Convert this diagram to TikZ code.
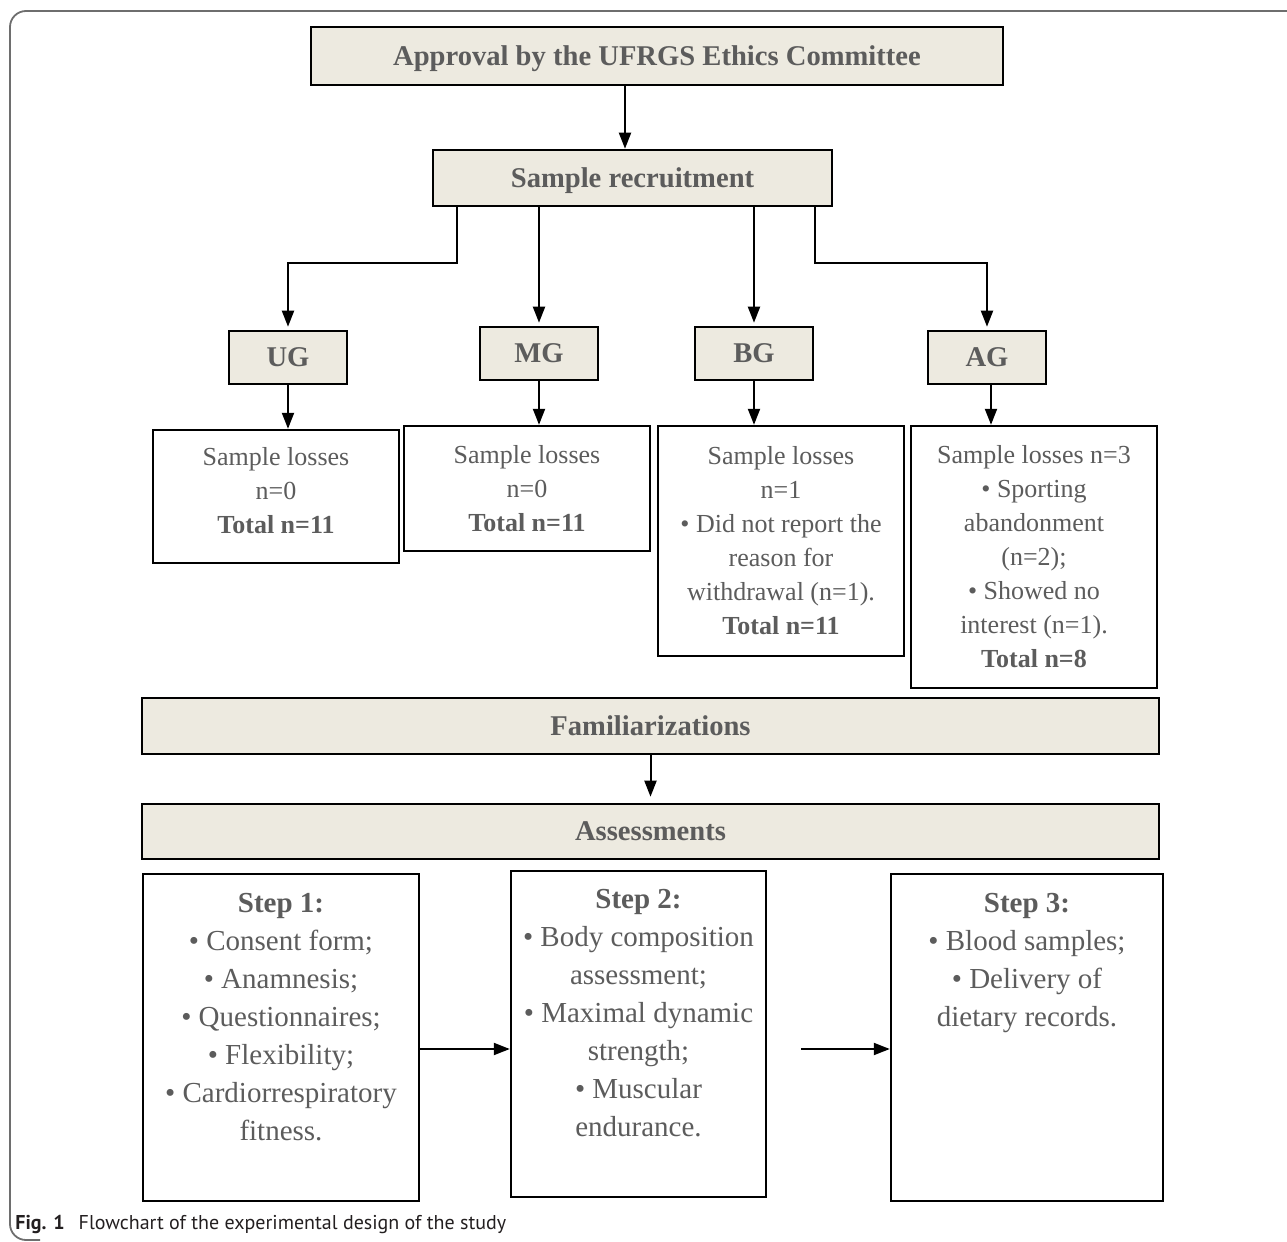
\documentclass[tikz,border=0pt]{standalone}
\usepackage{fontspec}
\setmainfont{Liberation Serif}
\newfontfamily\capfont{PT Sans}
\usetikzlibrary{arrows.meta}
\definecolor{boxfill}{RGB}{237,234,224}
\definecolor{txtgray}{RGB}{92,92,92}
\definecolor{framegray}{RGB}{110,110,110}
\definecolor{capblack}{RGB}{35,31,32}
\tikzset{
  titlebox/.style={draw=black, line width=1.3pt, fill=boxfill, text=txtgray,
    font=\bfseries\fontsize{14.3}{17}\selectfont, inner sep=0pt,
    text height=11pt, text depth=1.6pt},
  lossbox/.style={draw=black, line width=1.2pt, fill=white, text=txtgray,
    font=\fontsize{13}{17}\selectfont, align=center, inner sep=0pt,
    minimum width=123pt},
  stepbox/.style={draw=black, line width=1.2pt, fill=white, text=txtgray,
    font=\fontsize{14.5}{19}\selectfont, inner sep=0pt},
  arr/.style={line width=1pt, -{Triangle[length=8pt,width=6pt]}},
}
\newcommand{\stepcontent}[4]{\parbox[c][#2][t]{#1}{\centering\vspace*{#3}#4\par}}
\begin{document}
\begin{tikzpicture}[x=0.5pt,y=-0.5pt]
\useasboundingbox (0,0) rectangle (1287,1242);
% outer frame
\draw[framegray, line width=0.9pt, rounded corners=8pt] (1300,11) -- (10,11) -- (10,1240) -- (40,1240);

% top
\node[titlebox, minimum width=346pt, minimum height=29pt] (appr) at (657,56) {Approval by the UFRGS Ethics Committee};
\node[titlebox, minimum width=199.5pt, minimum height=28pt] (rec) at (632.5,178) {Sample recruitment};

% groups
\node[titlebox, minimum width=59pt, minimum height=26.5pt] (UG) at (288,357.5) {UG};
\node[titlebox, minimum width=59pt, minimum height=26.5pt] (MG) at (539,353.5) {MG};
\node[titlebox, minimum width=59pt, minimum height=26.5pt] (BG) at (754,353.5) {BG};
\node[titlebox, minimum width=59pt, minimum height=26.5pt] (AG) at (987,357.5) {AG};

% losses
\node[lossbox, minimum height=66.5pt] (UGL) at (276,496.5) {Sample losses\\n=0\\\textbf{Total n=11}\\[-11pt]\mbox{}};
\node[lossbox, minimum height=62.5pt] (MGL) at (527,488.5) {Sample losses\\n=0\\\textbf{Total n=11}};
\node[lossbox, minimum height=115pt] (BGL) at (781,541) {Sample losses\\n=1\\• Did not report the\\reason for\\withdrawal (n=1).\\\textbf{Total n=11}};
\node[lossbox, minimum height=131pt] (AGL) at (1034,557) {Sample losses n=3\\• Sporting\\abandonment\\(n=2);\\• Showed no\\interest (n=1).\\\textbf{Total n=8}};

% familiarization / assessments
\node[titlebox, minimum width=508.5pt, minimum height=28pt] (fam) at (650.5,726) {Familiarizations};
\node[titlebox, minimum width=508.5pt, minimum height=27.5pt] (ass) at (650.5,831.5) {Assessments};

% steps
\node[stepbox] (S1) at (281,1037.5) {\stepcontent{138pt}{163.5pt}{9.5pt}{\textbf{Step 1:}\\• Consent form;\\• Anamnesis;\\• Questionnaires;\\• Flexibility;\\• Cardiorrespiratory\\fitness.}};
\node[stepbox] (S2) at (638.5,1034) {\stepcontent{127.5pt}{163pt}{9pt}{\textbf{Step 2:}\\• Body composition\\assessment;\\• Maximal dynamic\\strength;\\• Muscular\\endurance.}};
\node[stepbox] (S3) at (1027,1037.5) {\stepcontent{136pt}{163.5pt}{9.5pt}{\textbf{Step 3:}\\• Blood samples;\\• Delivery of\\dietary records.}};

% helper coordinates
\coordinate (xa) at (625,0);
\coordinate (xl) at (457,0);
\coordinate (xr) at (815,0);
\coordinate (xag) at (991,0);
\coordinate (yj) at (0,263);
\coordinate (yh) at (0,1049);

% connectors
\draw[arr] (appr.south -| xa) -- (rec.north -| xa);
\draw[arr] (rec.south -| xl) -- (xl |- yj) -| ([yshift=1.5pt]UG.north);
\draw[arr] (rec.south -| MG.north) -- ([yshift=1.5pt]MG.north);
\draw[arr] (rec.south -| BG.north) -- ([yshift=1.5pt]BG.north);
\draw[arr] (rec.south -| xr) -- (xr |- yj) -| ([yshift=1.5pt]AG.north);

\draw[arr] (UG.south) -- (UGL.north -| UG.south);
\draw[arr] (MG.south) -- (MGL.north -| MG.south);
\draw[arr] (BG.south) -- (BGL.north -| BG.south);
\draw[arr] (AG.south -| xag) -- (AGL.north -| xag);

\draw[arr] (fam.south) -- ([yshift=3pt]ass.north);

\draw[arr] (S1.east |- yh) -- (S2.west |- yh);
\draw[arr, shorten <=17pt] (S2.east |- yh) -- (S3.west |- yh);

% caption
\node[anchor=west, text=capblack, inner sep=0pt, font=\capfont\fontsize{10}{12}\selectfont] (cap) at (15,1224) {\textbf{Fig. 1}\hspace{7pt}Flowchart of the experimental design of the study};
\end{tikzpicture}
\end{document}
